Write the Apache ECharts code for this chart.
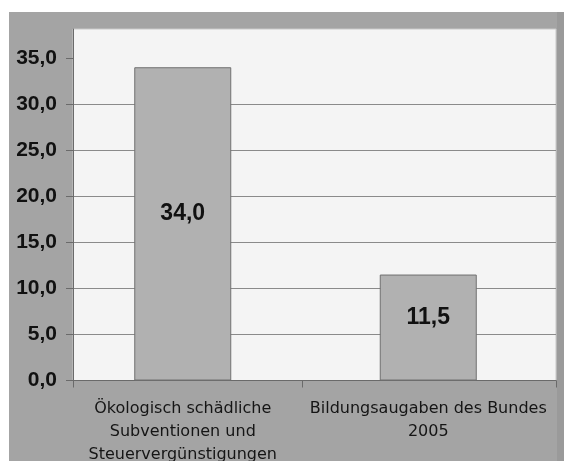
<!DOCTYPE html>
<html><head><meta charset="utf-8">
<script src="https://cdn.jsdelivr.net/npm/echarts@6/dist/echarts.min.js"></script>
<style>
html,body{margin:0;padding:0;background:#fff;}
#bg{position:absolute;left:9px;top:12px;width:555px;height:449px;background:#a4a4a4;}
#strip{position:absolute;left:557px;top:12px;width:7px;height:449px;background:#9a9a9a;}
#c{position:absolute;left:0;top:0;width:564px;height:461px;}
</style></head>
<body><div id="bg"></div><div id="strip"></div><div id="c"></div>
<script>
const categories = ['Ökologisch schädliche\nSubventionen und\nSteuervergünstigungen', 'Bildungsaugaben des Bundes\n2005'];
const values = [34.0, 11.5];
const yTicks = [0, 5, 10, 15, 20, 25, 30, 35];
const xTicks = [0, 0.474, 1];

const chart = echarts.init(document.getElementById('c'), null, {renderer: 'canvas'});
const fmt = v => v.toFixed(1).replace('.', ',');
chart.setOption({
  animation: false,
  grid: [
    {left: 73, right: 8, top: 29, bottom: 80.5, show: true, backgroundColor: '#f4f4f4', borderColor: '#c9c9c9', borderWidth: 1, outerBoundsMode: 'none', containLabel: false},
    {left: 60, right: 13, top: 29, bottom: 80.5, outerBoundsMode: 'none', containLabel: false}
  ],
  xAxis: [
    {gridIndex: 0, type: 'value', min: 0, max: 1,
     axisLine: {show: true, lineStyle: {color: '#6a6a6a', width: 1}},
     axisTick: {show: true, length: 7, lineStyle: {color: '#6a6a6a'}, customValues: xTicks},
     axisLabel: {show: false}, splitLine: {show: false}},
    {gridIndex: 1, type: 'category', data: categories,
     axisLine: {show: false},
     axisTick: {show: false},
     axisLabel: {color: '#151515', fontFamily: 'DejaVu Sans', fontSize: 16, lineHeight: 23, margin: 17, interval: 0}}
  ],
  yAxis: [
    {gridIndex: 0, type: 'value', min: 0, max: 38.15, interval: 5,
     axisLine: {show: true, lineStyle: {color: '#6a6a6a', width: 1}},
     axisTick: {show: true, length: 7, lineStyle: {color: '#6a6a6a'}, customValues: yTicks},
     axisLabel: {color: '#111', fontFamily: 'Liberation Sans', fontWeight: 'bold', fontSize: 21, margin: 16,
       customValues: yTicks, formatter: fmt},
     splitLine: {show: true, showMaxLine: false, lineStyle: {color: '#8a8a8a', width: 1}}},
    {gridIndex: 1, type: 'value', min: 0, max: 38.15, show: false}
  ],
  series: [{
    type: 'bar', xAxisIndex: 1, yAxisIndex: 1, data: values, barWidth: 97,
    itemStyle: {color: '#b1b1b1', borderColor: '#707070', borderWidth: 1},
    label: {show: true, position: 'inside', offset: [0, -10], formatter: p => fmt(p.value),
      color: '#111', fontFamily: 'Liberation Sans', fontWeight: 'bold', fontSize: 23}
  }]
});
</script></body></html>
